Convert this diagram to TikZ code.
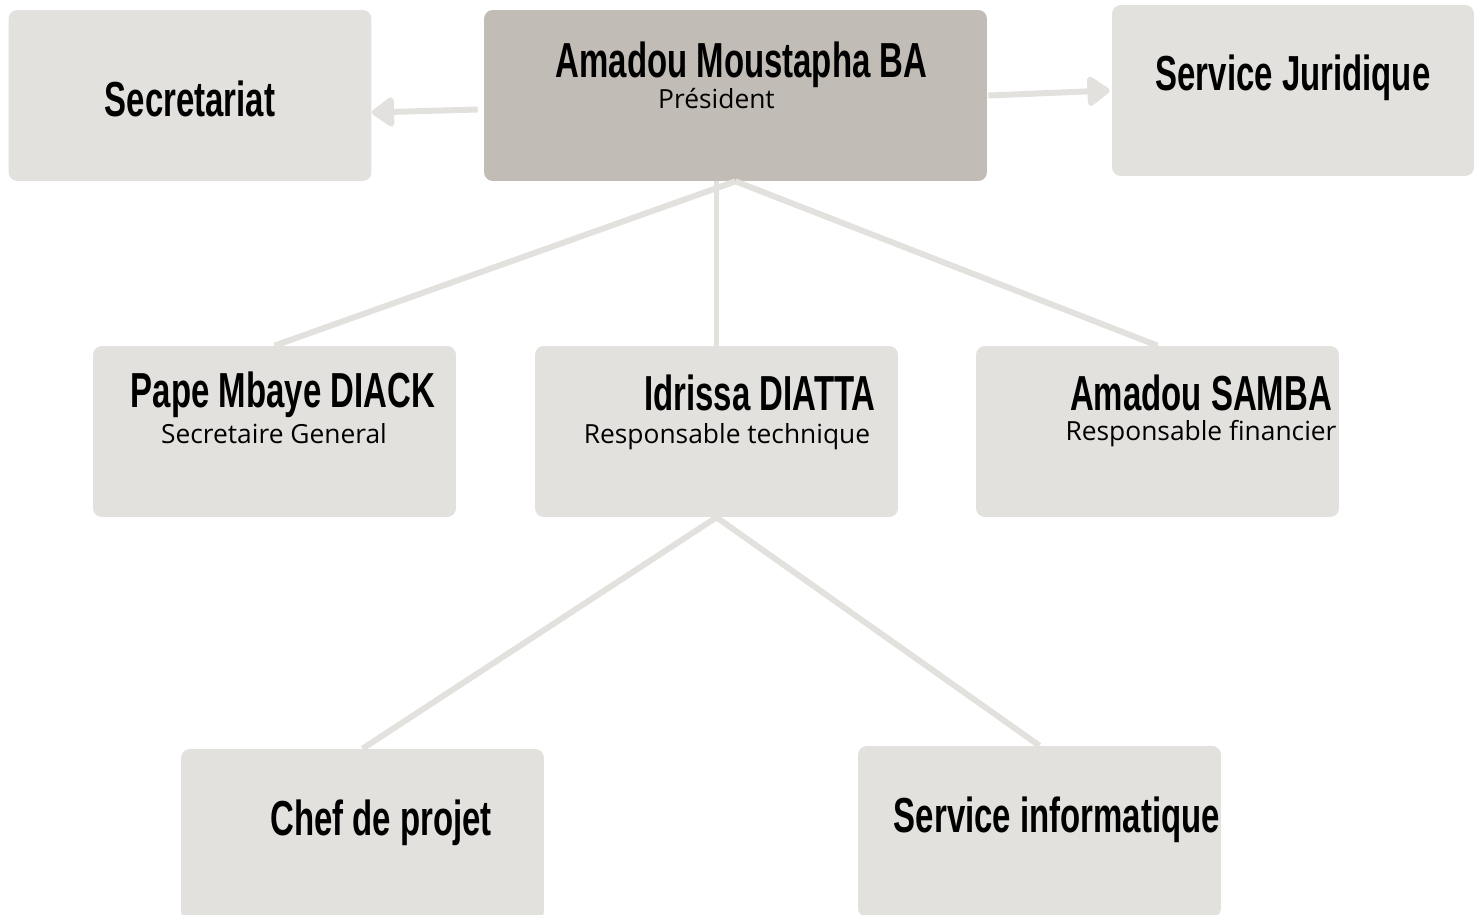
\documentclass[tikz,border=0pt]{standalone}
\usepackage{fontspec}
\setmainfont{Open Sans}
\newfontfamily\headfont[FakeStretch=0.67]{Liberation Sans}
\usetikzlibrary{calc,arrows.meta}
\definecolor{boxgray}{HTML}{E2E1DD}
\definecolor{presgray}{HTML}{C1BCB5}
\definecolor{linegray}{HTML}{E2E1DD}

\begin{document}
\begin{tikzpicture}[x=0.02cm,y=-0.02cm,
	box/.style={fill=boxgray,rounded corners=5pt,minimum width=7.26cm,minimum height=3.42cm,inner sep=0pt},
	head/.style={font=\headfont\bfseries\fontsize{28}{30}\selectfont,inner sep=0pt,anchor=base},
	sub/.style={font=\fontsize{15}{17}\selectfont,inner sep=0pt,anchor=base},
	link/.style={linegray,line width=3.4pt},
	arr/.style={link,-{Triangle[round,length=14pt,width=19pt]}}]
	\useasboundingbox (0,0) rectangle (1475,915);
	% the boxes
	\node[box] (sec) at (190,95.5) {};
	\node[box,fill=presgray,minimum width=10.06cm] (pres) at (735.5,95.5) {};
	\node[box,minimum width=7.24cm] (jur) at (1293,90.5) {};
	\node[box] (pape) at (274.5,431.5) {};
	\node[box] (idr) at (716.5,431.5) {};
	\node[box] (samba) at (1157.5,431.5) {};
	\node[box] (chef) at (362.5,834.5) {};
	\node[box] (info) at (1039.5,831.5) {};

	% the links
	\draw[link] (pres.south) -- (pape.north);
	\draw[link] (pres.south -| idr.north) -- (idr.north);
	\draw[link] (pres.south) -- (samba.north);
	\draw[link] (idr.south) -- (chef.north);
	\draw[link] (idr.south) -- (info.north);
	\draw[arr] ($(pres.west)+(-6,14)$) -- ($(sec.east)+(0,17)$);
	\draw[arr] ($(pres.east)+(1,0)$) -- ($(jur.west)+(-2,0)$);

	% the texts
	\node[head] (secT) at (190,117) {Secretariat};
	\node[head] (presT) at (741.5,78) {Amadou Moustapha BA};
	\node[sub] (presS) at (716.5,109) {Président};
	\node[head] (jurT) at (1293,91) {Service Juridique};
	\node[head] (papeT) at (283,408) {Pape Mbaye DIACK};
	\node[sub] (papeS) at (274,444) {Secretaire General};
	\node[head] (idrT) at (760,411) {Idrissa DIATTA};
	\node[sub] (idrS) at (727,444) {Responsable technique};
	\node[head] (sambaT) at (1201,411) {Amadou SAMBA};
	\node[sub] (sambaS) at (1201,441) {Responsable financier};
	\node[head] (chefT) at (381,835) {Chef de projet};
	\node[head] (infoT) at (1057,832) {Service informatique};
\end{tikzpicture}
\end{document}
